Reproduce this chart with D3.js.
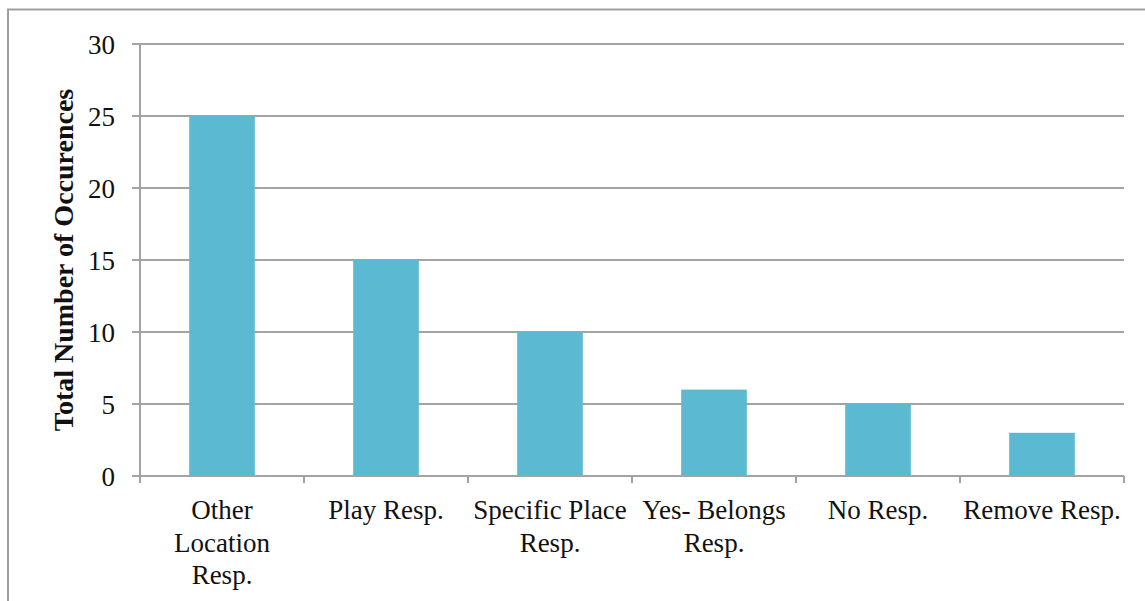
<!DOCTYPE html>
<html>
<head>
<meta charset="utf-8">
<script src="https://cdn.jsdelivr.net/npm/d3@7"></script>
<style>
  html, body { margin: 0; padding: 0; background: #fff; }
  svg { display: block; }
</style>
</head>
<body>
<svg id="chart" width="1145" height="601"></svg>
<script>
// Response categories (each entry holds the wrapped lines of its label)
const categories = [
  ["Other", "Location", "Resp."],
  ["Play Resp."],
  ["Specific Place", "Resp."],
  ["Yes- Belongs", "Resp."],
  ["No Resp."],
  ["Remove Resp."]
];
const values = [25, 15, 10, 6, 5, 3];
const yTicks = [0, 5, 10, 15, 20, 25, 30];
const yTitle = "Total Number of Occurences";

const svg = d3.select("#chart");
const W = 1145, H = 601;
const plot = { left: 140, right: 1124, top: 44, bottom: 476 };
const font = "'Liberation Serif', 'Times New Roman', serif";
const gridColor = "#a3a3a3";
const barColor = "#5bb9d1";

// outer frame
svg.append("rect")
  .attr("x", 8).attr("y", 9.5)
  .attr("width", W + 10).attr("height", H + 10)
  .attr("fill", "none").attr("stroke", "#a0a0a0").attr("stroke-width", 2);

const keys = categories.map((c, i) => i);
const x = d3.scaleBand()
  .domain(keys)
  .range([plot.left, plot.right])
  .paddingInner(0.6)
  .paddingOuter(0.3);

const y = d3.scaleLinear().domain([0, 30]).range([plot.bottom, plot.top]);

// horizontal gridlines with the outward tick on the left
svg.append("g")
  .selectAll("line")
  .data(yTicks)
  .join("line")
  .attr("x1", plot.left - 8).attr("x2", plot.right)
  .attr("y1", d => y(d)).attr("y2", d => y(d))
  .attr("stroke", gridColor).attr("stroke-width", 2);

// y-axis tick labels
svg.append("g")
  .selectAll("text")
  .data(yTicks)
  .join("text")
  .attr("x", 115)
  .attr("y", d => y(d) + 10)
  .attr("text-anchor", "end")
  .attr("font-family", font)
  .attr("font-size", 27)
  .attr("fill", "#111")
  .text(d => d);

// bars
svg.append("g")
  .selectAll("rect")
  .data(values)
  .join("rect")
  .attr("x", (d, i) => x(i))
  .attr("width", x.bandwidth())
  .attr("y", d => y(d))
  .attr("height", d => y(0) - y(d))
  .attr("fill", barColor);

// y axis line
svg.append("line")
  .attr("x1", plot.left).attr("x2", plot.left)
  .attr("y1", plot.top).attr("y2", plot.bottom + 7)
  .attr("stroke", gridColor).attr("stroke-width", 2);

// x axis line and category boundary ticks
svg.append("line")
  .attr("x1", plot.left).attr("x2", plot.right)
  .attr("y1", plot.bottom).attr("y2", plot.bottom)
  .attr("stroke", gridColor).attr("stroke-width", 2);

const step = x.step();
const boundaries = d3.range(categories.length + 1).map(i => plot.left + i * step);
svg.append("g")
  .selectAll("line")
  .data(boundaries)
  .join("line")
  .attr("x1", d => d).attr("x2", d => d)
  .attr("y1", plot.bottom).attr("y2", plot.bottom + 7)
  .attr("stroke", gridColor).attr("stroke-width", 2);

// category labels
const labels = svg.append("g")
  .selectAll("text")
  .data(categories)
  .join("text")
  .attr("text-anchor", "middle")
  .attr("font-family", font)
  .attr("font-size", 27)
  .attr("fill", "#111");
labels.selectAll("tspan")
  .data((d, i) => d.map(line => ({ line, i })))
  .join("tspan")
  .attr("x", d => x(d.i) + x.bandwidth() / 2)
  .attr("y", (d, j) => 519 + j * 32.5)
  .text(d => d.line);

// y-axis title
svg.append("text")
  .attr("transform", `translate(73, 260) rotate(-90)`)
  .attr("text-anchor", "middle")
  .attr("font-family", font)
  .attr("font-weight", "bold")
  .attr("font-size", 28)
  .attr("fill", "#111")
  .text(yTitle);
</script>
</body>
</html>
